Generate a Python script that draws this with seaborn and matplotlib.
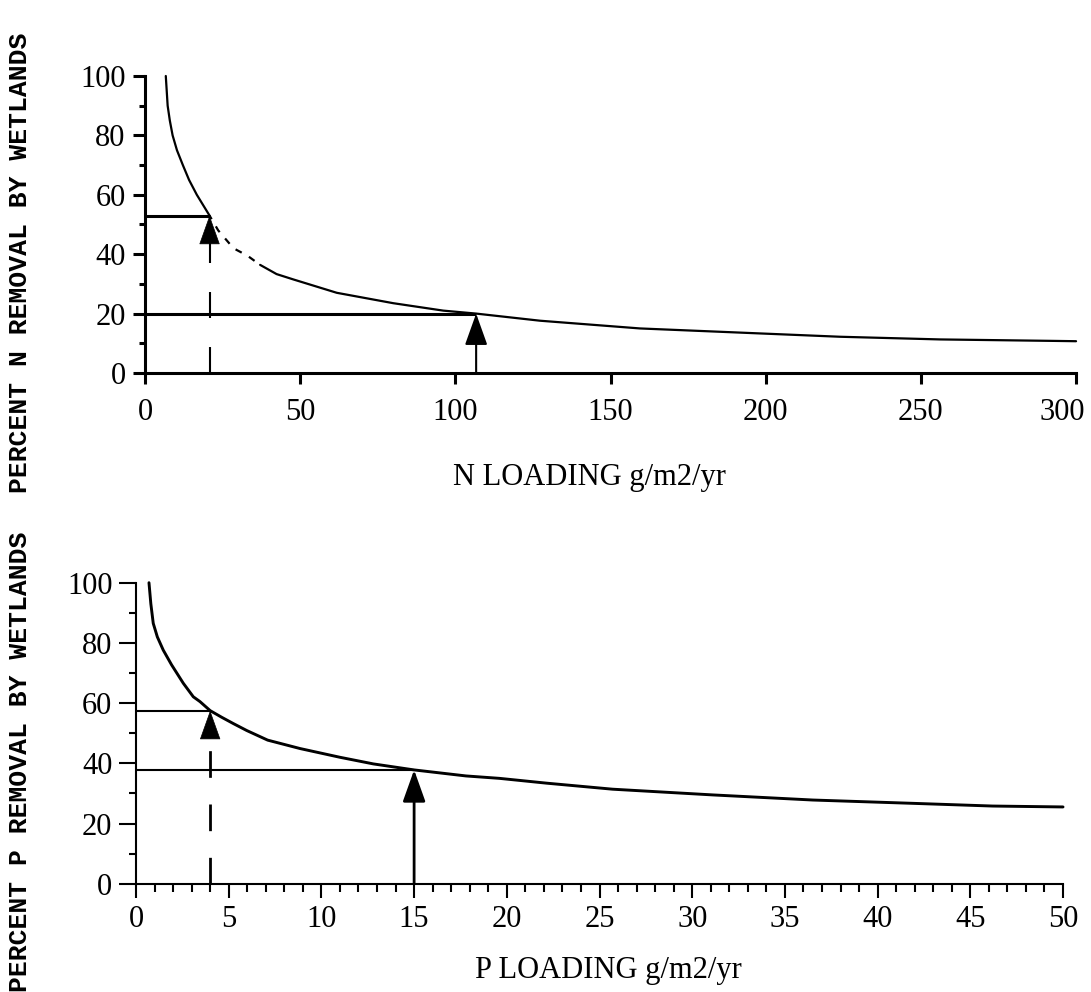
import matplotlib
matplotlib.use("Agg")
import matplotlib.pyplot as plt
import matplotlib.transforms as mtransforms
import seaborn as sns
import pandas as pd
from matplotlib.ticker import MultipleLocator

# ---------------- data ----------------
n_load = [6.7, 7.0, 7.3, 8.0, 8.9, 10.3, 12.2, 14.2, 16.7, 20.8, 23.6, 28.5, 33.0, 37.1,
          42.4, 47.8, 61.8, 80.0, 96.1, 106.7, 127.3, 159.5, 191.7, 224.0, 256.2,
          293.3, 300.0]
n_removal = [100, 95, 90, 85, 80, 75, 70, 65, 60, 53, 48, 42, 39.5, 36.4,
             33.3, 31.5, 27.0, 23.5, 21.0, 20.0, 17.6, 15.0, 13.6, 12.2, 11.3,
             10.8, 10.7]

p_load = [0.7, 0.8, 0.93, 1.15, 1.47, 1.92, 2.55, 3.09, 3.45, 4.0, 4.62, 5.25, 5.97,
          7.1, 8.85, 11.0, 12.8, 15.0, 17.8, 19.6, 22.15, 25.7, 31.1, 36.5, 41.9,
          46.2, 50.0]
p_removal = [100, 93, 86.5, 82, 77.6, 72.7, 66.6, 62.1, 60.5, 57.5, 55.3, 53.2, 50.9,
             47.7, 44.9, 42.0, 39.8, 37.8, 35.8, 35.0, 33.4, 31.4, 29.5, 27.8, 26.7,
             25.8, 25.5]

# reference readings (dashed = first, solid = second)
n_marks_x = [20.8, 106.7]
n_marks_y = [53.0, 20.0]
p_marks_x = [4.0, 15.0]
p_marks_y = [57.5, 37.8]

n_xticks = [0, 50, 100, 150, 200, 250, 300]
p_xticks = [0, 5, 10, 15, 20, 25, 30, 35, 40, 45, 50]
yticks = [0, 20, 40, 60, 80, 100]

n_xlabel = "N LOADING g/m2/yr"
p_xlabel = "P LOADING g/m2/yr"
n_ylabel = "PERCENT N REMOVAL BY WETLANDS"
p_ylabel = "PERCENT P REMOVAL BY WETLANDS"

# ---------------- style ----------------
sns.set_theme(style="ticks")
plt.rcParams["font.family"] = ["Liberation Serif", "DejaVu Serif"]
plt.rcParams["lines.scale_dashes"] = False

fig = plt.figure(figsize=(10.91, 9.92), dpi=100)
ax1 = fig.add_axes([0.1329, 0.6240, 0.8534, 0.2994])
ax2 = fig.add_axes([0.12466, 0.10917, 0.8497, 0.30343])

n_df = pd.DataFrame({"load": n_load, "removal": n_removal})
p_df = pd.DataFrame({"load": p_load, "removal": p_removal})

# ---- top (N) ----
i_dash0 = n_load.index(20.8)
i_dash1 = n_load.index(37.1)
sns.lineplot(data=n_df.iloc[:i_dash0 + 1], x="load", y="removal", ax=ax1,
             color="black", lw=1.6, estimator=None, clip_on=False)
sns.lineplot(data=n_df.iloc[i_dash0:i_dash1 + 1], x="load", y="removal", ax=ax1,
             color="black", lw=1.6, estimator=None, linestyle=(2, (5, 6)))
sns.lineplot(data=n_df.iloc[i_dash1:], x="load", y="removal", ax=ax1,
             color="black", lw=1.6, estimator=None, clip_on=False)

# ---- bottom (P) ----
sns.lineplot(data=p_df, x="load", y="removal", ax=ax2,
             color="black", lw=2.1, estimator=None, clip_on=False)


def guides(ax, mx, my, hlw, vlw, head_h, dash):
    for x, y in zip(mx, my):
        ax.plot([0, x], [y, y], color="black", lw=hlw, solid_capstyle="butt",
                clip_on=False)
    x0, y0 = mx[0], my[0]
    ax.plot([x0, x0], [0, y0 - head_h], color="black", lw=vlw,
            dashes=dash, solid_capstyle="butt", dash_capstyle="butt")
    ax.annotate("", xy=(x0, y0), xytext=(x0, y0 - head_h),
                arrowprops=dict(arrowstyle="-|>,head_length=1.4,head_width=0.5",
                                mutation_scale=14, color="black", lw=0.5,
                                shrinkA=0, shrinkB=0))
    x1, y1 = mx[1], my[1]
    ax.annotate("", xy=(x1, y1), xytext=(x1, 0),
                arrowprops=dict(arrowstyle="-|>,head_length=1.4,head_width=0.5",
                                mutation_scale=14, color="black", lw=vlw,
                                shrinkA=0, shrinkB=0))


guides(ax1, n_marks_x, n_marks_y, 2.2, 1.5, 9.0, (18.7, 20.9))
guides(ax2, p_marks_x, p_marks_y, 1.5, 2.0, 9.2, (19.2, 19.2))

# ---- axes formatting ----
for ax, xt, xmax, minor_x in [(ax1, n_xticks, 300, 10), (ax2, p_xticks, 50, 1)]:
    ax.set_xlim(0, xmax)
    ax.set_ylim(0, 100)
    ax.set_xticks(xt)
    ax.set_xticklabels([str(v) for v in xt])
    ax.set_yticks(yticks)
    ax.set_yticklabels([str(v) for v in yticks])
    ax.xaxis.set_minor_locator(MultipleLocator(minor_x))
    ax.yaxis.set_minor_locator(MultipleLocator(10))
    ax.set_xlabel("")
    ax.set_ylabel("")
    sns.despine(ax=ax)
    for lab in ax.get_xticklabels() + ax.get_yticklabels():
        lab.set_fontsize(22)
        lab.set_color("black")

for s in ["left", "bottom"]:
    ax1.spines[s].set_linewidth(2.2)
    ax1.spines[s].set_color("black")
ax1.tick_params(axis="x", which="major", length=8, width=2.2, pad=10, color="black")
ax1.tick_params(axis="x", which="minor", length=1.5, width=1.2, color="black")
ax1.tick_params(axis="y", which="major", length=9, width=2.2, pad=5, color="black")
ax1.tick_params(axis="y", which="minor", length=4.5, width=2.2, color="black")

for s in ["left", "bottom"]:
    ax2.spines[s].set_linewidth(1.5)
    ax2.spines[s].set_color("black")
ax2.tick_params(axis="x", which="major", length=10, width=1.5, pad=5, color="black")
ax2.tick_params(axis="x", which="minor", length=5.5, width=1.5, color="black")
ax2.tick_params(axis="y", which="major", length=12, width=1.5, pad=5, color="black")
ax2.tick_params(axis="y", which="minor", length=5, width=1.5, color="black")

# nudge the last top tick label so it stays inside the figure
last_tick = ax1.xaxis.get_major_ticks()[-1]
last_tick.label1.set_transform(last_tick.label1.get_transform() +
                               mtransforms.ScaledTranslation(-14 / 100, 0,
                                                             fig.dpi_scale_trans))

# axis titles
fig.text(589 / 1091, 1 - 485 / 992, n_xlabel, ha="center", va="baseline",
         fontsize=22, color="black")
fig.text(608 / 1091, 1 - 978 / 992, p_xlabel, ha="center", va="baseline",
         fontsize=22, color="black")
ylab_kw = dict(rotation=90, ha="center", va="center", fontsize=19, fontweight="bold",
               family=["Liberation Mono", "DejaVu Sans Mono"], color="black")
fig.text(20 / 1091, 1 - 263 / 992, n_ylabel, **ylab_kw)
fig.text(20 / 1091, 1 - 762 / 992, p_ylabel, **ylab_kw)

fig.savefig("out.png", dpi=100, facecolor="white")
